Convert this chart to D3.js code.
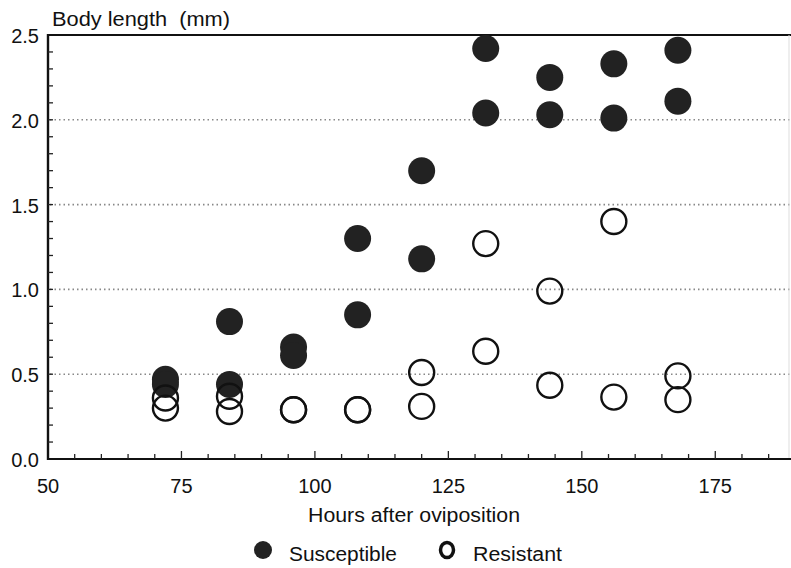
<!DOCTYPE html>
<html>
<head>
<meta charset="utf-8">
<script src="https://cdn.jsdelivr.net/npm/d3@7"></script>
<style>
  body { margin: 0; background: #fff; }
  svg { font-family: Arial, "Liberation Sans", sans-serif; }
</style>
</head>
<body>
<svg id="chart" width="791" height="568"></svg>
<script>
const hours = [72, 84, 96, 108, 120, 132, 144, 156, 168]
// two animals per time point, body length in mm
const susceptibleA = [0.47, 0.81, 0.66, 1.30, 1.70, 2.42, 2.25, 2.33, 2.41]
const susceptibleB = [0.44, 0.44, 0.61, 0.85, 1.18, 2.04, 2.03, 2.01, 2.11]
const resistantA = [0.36, 0.37, 0.29, 0.29, 0.51, 1.27, 0.99, 1.40, 0.49]
const resistantB = [0.30, 0.28, 0.29, 0.29, 0.31, 0.635, 0.435, 0.365, 0.35]
const xTicks = [50, 75, 100, 125, 150, 175]
const yTicks = [0, 0.5, 1, 1.5, 2, 2.5]

const susceptible = hours.flatMap((h, i) => [{h, v: susceptibleA[i]}, {h, v: susceptibleB[i]}])
const resistant = hours.flatMap((h, i) => [{h, v: resistantA[i]}, {h, v: resistantB[i]}])

const svg = d3.select('#chart')
const x = d3.scaleLinear().domain([50, 189]).range([48, 790])
const y = d3.scaleLinear().domain([0, 2.5]).range([459, 35])

// dotted grid
svg.append('g')
  .selectAll('line')
  .data(yTicks.filter(d => d > 0 && d < 2.5))
  .join('line')
  .attr('x1', x(50) + 2).attr('x2', 790)
  .attr('y1', d => y(d)).attr('y2', d => y(d))
  .attr('stroke', '#888')
  .attr('stroke-width', 1.6)
  .attr('stroke-dasharray', '1.5,3')

// frame: top and faint right
svg.append('line').attr('x1', x(50)).attr('x2', 791).attr('y1', y(2.5)).attr('y2', y(2.5))
  .attr('stroke', '#111').attr('stroke-width', 2.2)
svg.append('line').attr('x1', 789).attr('x2', 789).attr('y1', y(2.5)).attr('y2', y(0))
  .attr('stroke', '#ddd').attr('stroke-width', 1)

// x axis, ticks pointing inward
const xAxis = svg.append('g').attr('transform', `translate(0,${y(0)})`)
xAxis.append('line').attr('x1', x(50)).attr('x2', 791).attr('stroke', '#111').attr('stroke-width', 2.2)
xAxis.selectAll('line.tick')
  .data(d3.range(55, 189, 5))
  .join('line')
  .attr('class', 'tick')
  .attr('x1', d => x(d)).attr('x2', d => x(d))
  .attr('y1', 0).attr('y2', d => d % 25 === 0 ? -8 : -5)
  .attr('stroke', '#222').attr('stroke-width', 1.3)
xAxis.selectAll('text')
  .data(xTicks)
  .join('text')
  .attr('x', d => x(d)).attr('y', 34)
  .attr('text-anchor', 'middle')
  .attr('font-size', 20)
  .attr('fill', '#111')
  .text(d => d)

// y axis
const yAxis = svg.append('g').attr('transform', `translate(${x(50)},0)`)
yAxis.append('line').attr('y1', y(0) + 1).attr('y2', y(2.5) - 1).attr('stroke', '#111').attr('stroke-width', 2.4)
yAxis.selectAll('line.tick')
  .data(d3.range(1, 25).map(d => d / 10))
  .join('line')
  .attr('class', 'tick')
  .attr('y1', d => y(d)).attr('y2', d => y(d))
  .attr('x1', 0).attr('x2', 5)
  .attr('stroke', '#222').attr('stroke-width', 1.3)
yAxis.selectAll('text')
  .data(yTicks)
  .join('text')
  .attr('x', -9).attr('y', d => y(d) + 8)
  .attr('text-anchor', 'end')
  .attr('font-size', 20)
  .attr('fill', '#111')
  .text(d => d.toFixed(1))

svg.append('text').attr('x', 52).attr('y', 26).attr('font-size', 20).attr('fill', '#111')
  .attr('textLength', 178).attr('lengthAdjust', 'spacingAndGlyphs')
  .attr('xml:space', 'preserve').text('Body length  (mm)')
svg.append('text').attr('x', 308).attr('y', 522)
  .attr('textLength', 212).attr('lengthAdjust', 'spacingAndGlyphs')
  .attr('font-size', 20).attr('fill', '#111').text('Hours after oviposition')

// points
svg.append('g')
  .selectAll('circle')
  .data(susceptible)
  .join('circle')
  .attr('cx', d => x(d.h)).attr('cy', d => y(d.v))
  .attr('r', 13.5)
  .attr('fill', '#222')

svg.append('g')
  .selectAll('circle')
  .data(resistant)
  .join('circle')
  .attr('cx', d => x(d.h)).attr('cy', d => y(d.v))
  .attr('r', 12.5)
  .attr('fill', 'none')
  .attr('stroke', '#111')
  .attr('stroke-width', 2.4)

// legend
const legend = svg.append('g')
legend.append('circle').attr('cx', 263).attr('cy', 550).attr('r', 9).attr('fill', '#222')
legend.append('text').attr('x', 289).attr('y', 561).attr('font-size', 20)
  .attr('textLength', 108).attr('lengthAdjust', 'spacingAndGlyphs').attr('fill', '#111').text('Susceptible')
legend.append('ellipse').attr('cx', 447).attr('cy', 550).attr('rx', 6.5).attr('ry', 7.5).attr('fill', 'none')
  .attr('stroke', '#111').attr('stroke-width', 3.5)
legend.append('text').attr('x', 473).attr('y', 561).attr('font-size', 20)
  .attr('textLength', 89).attr('lengthAdjust', 'spacingAndGlyphs').attr('fill', '#111').text('Resistant')
</script>
</body>
</html>
